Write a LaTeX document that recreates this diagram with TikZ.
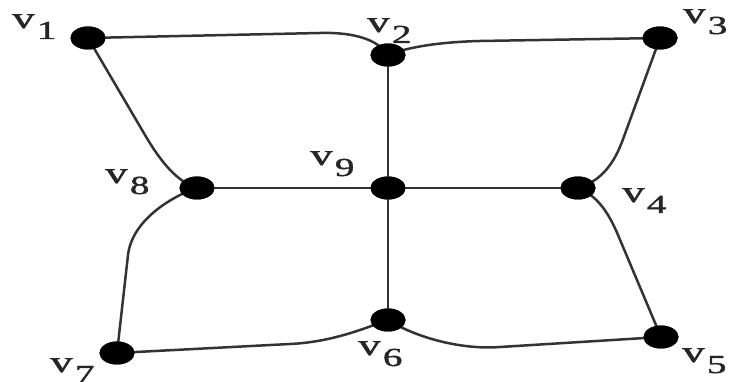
\documentclass[tikz,border=0pt]{standalone}
\usepackage{fontspec}
\usepackage{graphicx}
\setmainfont{Liberation Serif}
\newfontfamily\lfont[FakeBold=1.2]{Liberation Serif}
\usetikzlibrary{shapes.geometric}
\newcommand{\vlab}[1]{\scalebox{1.5}[1]{\lfont\fontsize{30}{30}\selectfont v\kern1.5pt\raisebox{-11pt}{\fontsize{26}{26}\selectfont #1}}}
\tikzset{
  vert/.style={ellipse, fill=black, minimum width=35pt, minimum height=23pt, inner sep=0pt},
  edge/.style={draw=black!80, line width=2.5pt},
  lbl/.style={inner sep=0pt, anchor=base west, text=black!85}
}
\begin{document}
\begin{tikzpicture}[x=1pt,y=1pt]
\useasboundingbox (0,0) rectangle (729,382);
\node[vert] (v1) at (88,344) {};
\node[vert] (v2) at (388,327) {};
\node[vert] (v3) at (660,344) {};
\node[vert] (v4) at (578,194) {};
\node[vert] (v5) at (661,45) {};
\node[vert] (v6) at (388,62) {};
\node[vert] (v7) at (117,29) {};
\node[vert] (v8) at (197,194) {};
\node[vert] (v9) at (388,194) {};
\draw[edge] (v1.center) -- (320,349) .. controls (355,350) and (378,342) .. (v2.center);
\draw[edge] (v2.center) .. controls (408,335) and (440,340) .. (480,341) -- (v3.center);
\draw[edge] (v3.center) -- (622,240) .. controls (612,214) and (598,200) .. (v4.center);
\draw[edge] (v4.center) .. controls (592,188) and (605,178) .. (618,147) -- (v5.center);
\draw[edge] (v5.center) -- (500,35) .. controls (460,32) and (415,45) .. (v6.center);
\draw[edge] (v6.center) .. controls (365,54) and (333,40) .. (290,38) -- (v7.center);
\draw[edge] (v7.center) -- (128,127) .. controls (132,161) and (170,185) .. (v8.center);
\draw[edge] (v8.center) .. controls (178,200) and (162,218) .. (145,247) -- (v1.center);
\draw[edge] (v8.center) -- (v9.center);
\draw[edge] (v9.center) -- (v4.center);
\draw[edge] (v2.center) -- (v9.center);
\draw[edge] (v9.center) -- (v6.center);
\foreach \n in {v1,v2,v3,v4,v5,v6,v7,v8,v9} \node[vert] at (\n) {};
\node[lbl] (l1) at (12,354) {\vlab{1}};
\node[lbl] (l2) at (367,350) {\vlab{2}};
\node[lbl] (l3) at (683,359) {\vlab{3}};
\node[lbl] (l4) at (622,180) {\vlab{4}};
\node[lbl] (l5) at (682,20) {\vlab{5}};
\node[lbl] (l6) at (358,27) {\vlab{6}};
\node[lbl] (l7) at (50,10) {\vlab{7}};
\node[lbl] (l8) at (105,199) {\vlab{8}};
\node[lbl] (l9) at (310,217) {\vlab{9}};
\end{tikzpicture}
\end{document}
